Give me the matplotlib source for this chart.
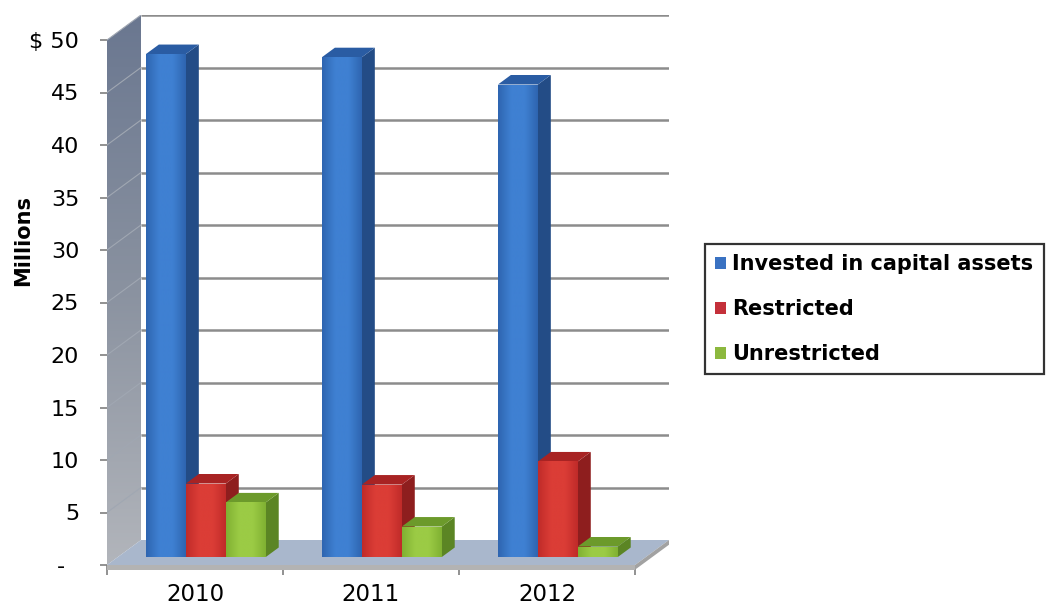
import numpy as np
import matplotlib.pyplot as plt
from matplotlib.patches import Polygon, Patch
from matplotlib.colors import LinearSegmentedColormap

# Net position by year, millions of dollars
years = ["2010", "2011", "2012"]
invested = [47.9, 47.6, 45.0]
restricted = [7.0, 6.9, 9.1]
unrestricted = [5.2, 2.9, 1.0]
series_names = ["Invested in capital assets", "Restricted", "Unrestricted"]

y_ticks = [0, 5, 10, 15, 20, 25, 30, 35, 40, 45, 50]
y_tick_labels = ["-  ", "5", "10", "15", "20", "25", "30", "35", "40", "45", "$ 50"]

# (front edge, front middle, side, top) shades per series
shades = [
    ("#2e65b0", "#3f80d2", "#234c86", "#2a5ca3"),
    ("#c02b29", "#db3d36", "#8e1e1e", "#a82323"),
    ("#80b132", "#9bcb45", "#5b8524", "#6c9a2b"),
]
legend_colors = ["#3a72c2", "#c4303a", "#8cb83e"]

# oblique depth of the chart box, in data units
DX = 34 / 176
DY = 25 / 10.5
Z0, Z1 = 0.32, 0.70  # bar depth range as fraction of the box depth
BAR_W = 0.227
YMAX = 50

W, H = 1047, 608
fig = plt.figure(figsize=(W / 100, H / 100), dpi=100)
ax = fig.add_axes([107 / W, 43 / H, (3 + DX) * 176 / W, (YMAX + DY) * 10.5 / H])
for s in ax.spines.values():
    s.set_visible(False)


def gradient_fill(ax, poly_pts, colors, vertical, zorder):
    """Fill a polygon with a linear gradient through the given colours."""
    patch = Polygon(poly_pts, closed=True, facecolor="none", edgecolor="none", zorder=zorder)
    ax.add_patch(patch)
    pts = np.array(poly_pts)
    cmap = LinearSegmentedColormap.from_list("g", colors)
    grad = np.linspace(0, 1, 256)
    grad = grad[:, None] if vertical else grad[None, :]
    im = ax.imshow(grad, cmap=cmap, aspect="auto", origin="lower",
                   extent=[pts[:, 0].min(), pts[:, 0].max(), pts[:, 1].min(), pts[:, 1].max()],
                   zorder=zorder, interpolation="bilinear")
    im.set_clip_path(patch)
    return im


# left side wall
wall = [(0, 0), (0, YMAX), (DX, YMAX + DY), (DX, DY)]
gradient_fill(ax, wall, ["#b2b5bb", "#8a92a0", "#6a7790"], vertical=True, zorder=1)

# gridlines on back wall and side wall
for v in y_ticks[1:]:
    ax.plot([DX, 3 + DX], [v + DY, v + DY], color="#8c8c8c", lw=1.8, zorder=2,
            solid_capstyle="butt")
    ax.plot([0, DX], [v, v + DY], color="#a0a7b2", lw=0.8, zorder=2)

# floor
floor = [(0, 0), (3, 0), (3 + DX, DY), (DX, DY)]
ax.add_patch(Polygon(floor, closed=True, facecolor="#a9b7cc", edgecolor="none", zorder=3))
ax.add_patch(Polygon([(0, 0), (3, 0), (3, -0.45), (0, -0.45)], closed=True,
                     facecolor="#b3b3b3", edgecolor="none", zorder=3, clip_on=False))
ax.add_patch(Polygon([(3, 0), (3 + DX, DY), (3 + DX, DY - 0.45), (3, -0.45)], closed=True,
                     facecolor="#a2a2a2", edgecolor="none", zorder=3, clip_on=False))


def draw_bar(ax, x_left, value, cols, zorder):
    edge, mid, side_c, top_c = cols
    xr = x_left + BAR_W
    x0, y0 = Z0 * DX, Z0 * DY
    x1, y1 = Z1 * DX, Z1 * DY
    side = [(xr + x0, y0), (xr + x1, y1), (xr + x1, y1 + value), (xr + x0, y0 + value)]
    top = [(x_left + x0, y0 + value), (xr + x0, y0 + value),
           (xr + x1, y1 + value), (x_left + x1, y1 + value)]
    ax.add_patch(Polygon(side, closed=True, facecolor=side_c, edgecolor="none", zorder=zorder))
    ax.add_patch(Polygon(top, closed=True, facecolor=top_c, edgecolor="none", zorder=zorder))
    front = [(x_left + x0, y0), (xr + x0, y0), (xr + x0, y0 + value), (x_left + x0, y0 + value)]
    gradient_fill(ax, front, [edge, mid, mid, edge], vertical=False, zorder=zorder + 0.5)


series = [invested, restricted, unrestricted]
z = 4
for i in range(len(years)):
    for j, vals in enumerate(series):
        x_left = i + 0.5 - 1.5 * BAR_W + j * BAR_W
        draw_bar(ax, x_left, vals[i], shades[j], z)
        z += 1

ax.set_xlim(0, 3 + DX)
ax.set_ylim(0, YMAX + DY)

# axis ticks and labels
ax.set_yticks(y_ticks)
ax.set_yticklabels(y_tick_labels, fontsize=16)
ax.tick_params(axis="y", direction="out", length=5, width=1.2, color="#7f7f7f", pad=15)
ax.set_xticks([0.5, 1.5, 2.5])
ax.set_xticklabels(years, fontsize=16.5)
ax.set_xticks([0, 1, 2, 3], minor=True)
ax.tick_params(axis="x", which="major", length=0, pad=13)
ax.tick_params(axis="x", which="minor", direction="out", length=7, width=1.2, color="#7f7f7f")

fig.text(23 / W, 1 - 240 / H, "Millions", rotation=90, fontsize=15, fontweight="bold",
         ha="center", va="center")

handles = [Patch(facecolor=c, edgecolor="none") for c in legend_colors]
leg = fig.legend(handles, series_names, loc="center left",
                 bbox_to_anchor=(705 / W, 1 - 309 / H), frameon=True, fancybox=False,
                 prop={"size": 15, "weight": "bold"}, handlelength=0.5, handleheight=0.5,
                 handletextpad=0.3, labelspacing=1.2, borderpad=0.5, borderaxespad=0)
leg.get_frame().set_edgecolor("black")
leg.get_frame().set_linewidth(1.6)

fig.savefig("out.png", dpi=100)
